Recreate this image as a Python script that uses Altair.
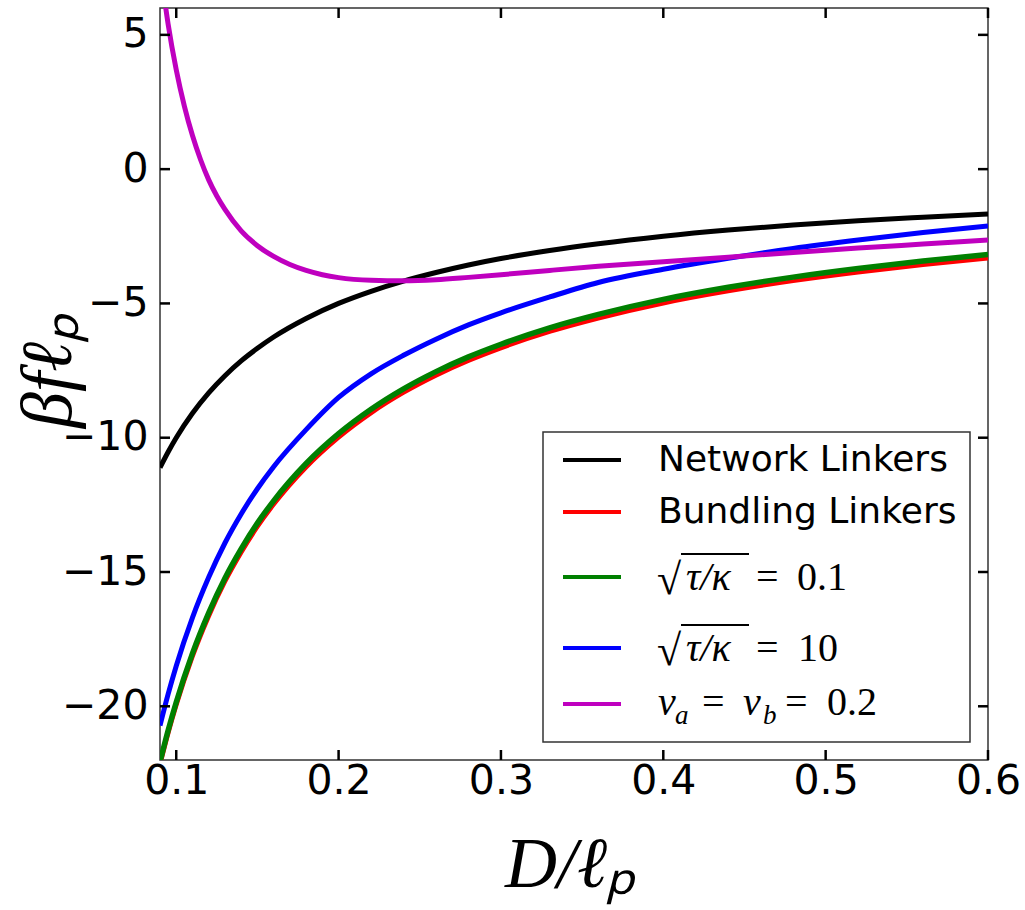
import altair as alt
import pandas as pd

# ---- data ----
D = [0.09, 0.095, 0.10, 0.11, 0.12, 0.13, 0.14, 0.15, 0.16, 0.18, 0.20, 0.22,
     0.24, 0.26, 0.28, 0.30, 0.33, 0.36, 0.40, 0.44, 0.48, 0.52, 0.56, 0.60]
network = [-11.11, -10.53, -10.0, -9.09, -8.33, -7.69, -7.14, -6.67, -6.25, -5.56, -5.0, -4.55,
           -4.17, -3.85, -3.57, -3.33, -3.03, -2.78, -2.5, -2.27, -2.08, -1.92, -1.79, -1.67]
bundling = [-22.22, -21.05, -20.0, -18.18, -16.67, -15.38, -14.29, -13.33, -12.5, -11.11, -10.0, -9.09,
            -8.33, -7.69, -7.14, -6.67, -6.06, -5.56, -5.0, -4.55, -4.17, -3.85, -3.57, -3.33]
tau01 = [-22.07, -20.90, -19.85, -18.03, -16.52, -15.23, -14.14, -13.18, -12.35, -10.96, -9.85, -8.94,
         -8.18, -7.54, -6.99, -6.52, -5.91, -5.41, -4.85, -4.40, -4.02, -3.70, -3.42, -3.18]
tau10 = [-20.72, -19.55, -18.5, -16.7, -15.2, -13.92, -12.84, -11.9, -11.08, -9.7, -8.5, -7.62,
         -6.93, -6.33, -5.8, -5.35, -4.76, -4.22, -3.73, -3.32, -2.95, -2.64, -2.36, -2.12]
D_purple = [0.09, 0.095, 0.10, 0.105, 0.11, 0.115, 0.12, 0.125, 0.13, 0.14, 0.15, 0.16, 0.17, 0.18,
            0.19, 0.20, 0.22, 0.24, 0.26, 0.28, 0.30, 0.33, 0.36, 0.40, 0.44, 0.48, 0.52, 0.56, 0.60]
vab02 = [7.6, 5.4, 3.7, 2.35, 1.25, 0.35, -0.40, -1.0, -1.5, -2.3, -2.85, -3.25, -3.55, -3.77,
         -3.93, -4.04, -4.14, -4.16, -4.12, -4.03, -3.93, -3.77, -3.62, -3.45, -3.28, -3.1, -2.94,
         -2.79, -2.64]

series_names = ["network", "bundling", "tau01", "tau10", "vab02"]
series_colors = ["#000000", "#ff0000", "#008000", "#0000ff", "#bf00bf"]
series_widths = [5, 4, 5.5, 5, 5]
legend_text = ["Network Linkers", "Bundling Linkers"]

x_ticks = [0.1, 0.2, 0.3, 0.4, 0.5, 0.6]
y_ticks = [-20, -15, -10, -5, 0, 5]

W, H = 828, 752

rows = []
for name, ys, xs in [("network", network, D), ("bundling", bundling, D), ("tau01", tau01, D),
                     ("tau10", tau10, D), ("vab02", vab02, D_purple)]:
    for x, y in zip(xs, ys):
        rows.append({"series": name, "D": x, "f": y})
df = pd.DataFrame(rows)

xscale = alt.Scale(domain=[0.09, 0.6], nice=False, zero=False)
yscale = alt.Scale(domain=[-22, 6], nice=False, zero=False)

xaxis = alt.Axis(values=x_ticks, format=".1f", ticks=False, tickSize=0, domain=False, grid=False,
                 labelFlush=False, labelFont="DejaVu Sans", labelFontSize=41, labelColor="black",
                 labelPadding=1,
                 title="D/ℓₚ", titleFont="Liberation Serif", titleFontStyle="italic",
                 titleFontWeight="normal", titleFontSize=72, titleColor="black",
                 titleX=410, titleY=126, titleAlign="center", titleBaseline="alphabetic")
yaxis = alt.Axis(values=y_ticks, format="d", ticks=False, tickSize=0, domain=False, grid=False,
                 labelFlush=False, labelFont="DejaVu Sans", labelFontSize=41, labelColor="black",
                 labelPadding=12,
                 title="βfℓₚ", titleFont="Liberation Serif", titleFontStyle="italic",
                 titleFontWeight="normal", titleFontSize=72, titleColor="black",
                 titleX=-90, titleY=362, titleAngle=270, titleAlign="center",
                 titleBaseline="alphabetic")

layers = []
base = alt.Chart(df)
for i, (name, col, w) in enumerate(zip(series_names, series_colors, series_widths)):
    layers.append(base.transform_filter(alt.datum.series == name)
                  .mark_line(color=col, strokeWidth=w, clip=True, interpolate="monotone")
                  .encode(x=alt.X("D:Q", scale=xscale, axis=xaxis),
                          y=alt.Y("f:Q", scale=yscale, axis=yaxis),
                          order="D:Q"))

# inward ticks
xt = pd.DataFrame({"D": x_ticks})
yt = pd.DataFrame({"f": y_ticks})
tick_style = dict(color="black", strokeWidth=2.5)
layers.append(alt.Chart(xt).mark_rule(**tick_style).encode(
    x=alt.X("D:Q", scale=xscale, axis=xaxis), y=alt.value(H), y2=alt.value(H - 10)))
layers.append(alt.Chart(xt).mark_rule(**tick_style).encode(
    x=alt.X("D:Q", scale=xscale, axis=xaxis), y=alt.value(0), y2=alt.value(10)))
layers.append(alt.Chart(yt).mark_rule(**tick_style).encode(
    y=alt.Y("f:Q", scale=yscale, axis=yaxis), x=alt.value(0), x2=alt.value(10)))
layers.append(alt.Chart(yt).mark_rule(**tick_style).encode(
    y=alt.Y("f:Q", scale=yscale, axis=yaxis), x=alt.value(W), x2=alt.value(W - 10)))

# ---- legend ----
one = pd.DataFrame({"k": [0]})


def txt(s, x, y, size, font="DejaVu Sans", style="normal", baseline="alphabetic"):
    return alt.Chart(one).mark_text(text=s, font=font, fontSize=size, fontStyle=style,
                                    align="left", baseline=baseline, color="black").encode(
        x=alt.value(x), y=alt.value(y))


def hrule(x1, x2, y, color, w):
    return alt.Chart(one).mark_rule(color=color, strokeWidth=w).encode(
        x=alt.value(x1), x2=alt.value(x2), y=alt.value(y))


layers.append(alt.Chart(one).mark_rect(fill="white", stroke="#333333", strokeWidth=1.5).encode(
    x=alt.value(383), x2=alt.value(810), y=alt.value(424), y2=alt.value(734)))

sw_y = [452, 504, 569, 640, 696]
for col, y in zip(series_colors, sw_y):
    layers.append(hrule(403, 461, y, col, 4))

layers.append(txt(legend_text[0], 498, 452, 36, baseline="middle"))
layers.append(txt(legend_text[1], 498, 504, 36, baseline="middle"))

serif = "Liberation Serif"
for base_y, num, numx in [(582, "0.1", 637), (653, "10", 638)]:
    layers.append(txt("√", 497, base_y + 4, 44, font=serif))
    layers.append(hrule(521, 589, base_y - 36, "black", 1.8))
    layers.append(txt("τ/κ", 526, base_y, 40, font=serif, style="italic"))
    layers.append(txt("=", 596, base_y, 40, font=serif))
    layers.append(txt(num, numx, base_y, 40, font=serif))

pb = 707
layers.append(txt("v", 498, pb, 40, font=serif, style="italic"))
layers.append(txt("a", 515, pb + 9, 27, font=serif, style="italic"))
layers.append(txt("=", 542, pb, 40, font=serif))
layers.append(txt("v", 583, pb, 40, font=serif, style="italic"))
layers.append(txt("b", 603, pb + 9, 27, font=serif, style="italic"))
layers.append(txt("=", 625, pb, 40, font=serif))
layers.append(txt("0.2", 667, pb, 40, font=serif))

chart = alt.layer(*layers).properties(
    width=W, height=H,
    autosize=alt.AutoSizeParams(type="none"),
    padding={"left": 160, "top": 8, "right": 37, "bottom": 150},
    background="white",
).configure_view(stroke="#333333", strokeWidth=1.5)

chart.save("out.html", embed_options={"renderer": "svg", "actions": False})
